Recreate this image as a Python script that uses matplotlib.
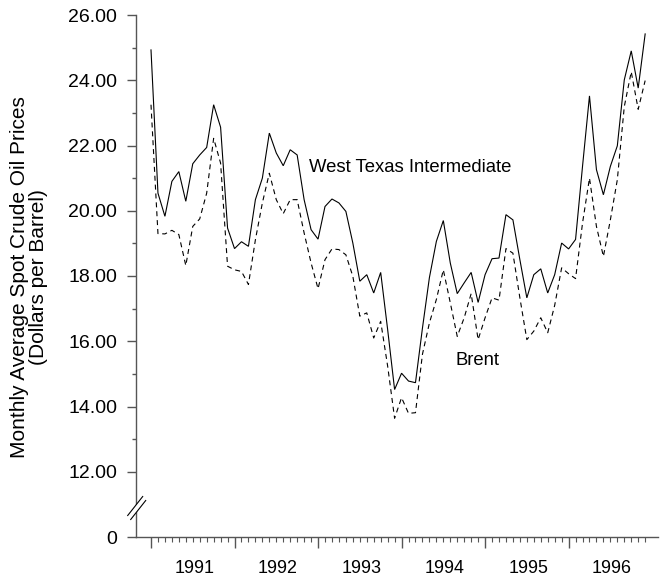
import matplotlib
matplotlib.use("Agg")
import matplotlib.pyplot as plt
from matplotlib.lines import Line2D
from matplotlib.patches import Polygon
import numpy as np

plt.rcParams['font.family'] = ['Liberation Sans', 'DejaVu Sans']

years = ['1991', '1992', '1993', '1994', '1995', '1996']

wti = [24.93, 20.54, 19.83, 20.90, 21.20, 20.29, 21.44, 21.71, 21.94, 23.25, 22.56, 19.47,
       18.84, 19.05, 18.91, 20.34, 21.00, 22.38, 21.77, 21.38, 21.87, 21.71, 20.34, 19.42,
       19.13, 20.13, 20.36, 20.24, 19.98, 19.01, 17.84, 18.04, 17.48, 18.11, 16.36, 14.52,
       15.02, 14.78, 14.73, 16.40, 17.95, 19.06, 19.70, 18.40, 17.46, 17.79, 18.11, 17.19,
       18.04, 18.53, 18.55, 19.88, 19.72, 18.50, 17.33, 18.04, 18.22, 17.48, 18.04, 19.01,
       18.83, 19.12, 21.36, 23.52, 21.26, 20.49, 21.36, 21.99, 24.01, 24.90, 23.76, 25.42]

brent = [23.25, 19.30, 19.29, 19.40, 19.27, 18.32, 19.52, 19.75, 20.54, 22.22, 21.46, 18.30,
         18.19, 18.14, 17.74, 19.11, 20.24, 21.15, 20.34, 19.91, 20.34, 20.34, 19.32, 18.40,
         17.61, 18.50, 18.83, 18.81, 18.65, 17.99, 16.77, 16.87, 16.10, 16.61, 15.24, 13.64,
         14.27, 13.79, 13.81, 15.60, 16.56, 17.28, 18.19, 17.18, 16.15, 16.72, 17.46, 16.05,
         16.72, 17.33, 17.26, 18.84, 18.70, 17.33, 16.05, 16.31, 16.72, 16.26, 17.10, 18.25,
         18.07, 17.92, 19.62, 21.00, 19.52, 18.60, 19.72, 20.95, 23.19, 24.26, 23.11, 23.99]

ytick_vals = [10, 12, 14, 16, 18, 20, 22, 24, 26]
ytick_labels = ['0', '12.00', '14.00', '16.00', '18.00', '20.00', '22.00', '24.00', '26.00']

W, H = 662, 579
fig = plt.figure(figsize=(W / 100, H / 100), dpi=100)
ax = fig.add_axes([136 / W, (H - 537) / H, (658 - 136) / W, (537 - 15) / H])

months = np.arange(len(wti))
ax.plot(months, wti, color='black', lw=0.8, solid_joinstyle='miter')
ax.plot(months, brent, color='black', lw=0.8, linestyle=(0, (4.5, 3.5)))

ax.set_xlim(-2.155, 72.845)
ax.set_ylim(10, 26)

axcol = '#555555'
for s in ['top', 'right']:
    ax.spines[s].set_visible(False)
for s in ['left', 'bottom']:
    ax.spines[s].set_color(axcol)
    ax.spines[s].set_linewidth(1.0)

ax.set_yticks(ytick_vals)
ax.set_yticklabels(ytick_labels)
ax.set_yticks(np.arange(13, 26, 2), minor=True)
ax.tick_params(axis='y', which='major', length=6.5, width=1.0, color=axcol,
               pad=7, labelsize=14)
ax.tick_params(axis='y', which='minor', length=3.2, width=1.0, color=axcol)

ax.set_xticks(np.arange(0, 72, 12))
ax.set_xticklabels([])
ax.set_xticks(np.arange(0, 72, 1), minor=True)
ax.tick_params(axis='x', which='major', length=7.9, width=1.0, color=axcol)
ax.tick_params(axis='x', which='minor', length=3.6, width=0.8, color=axcol)

for i, yr in enumerate(years):
    ax.text(6.2 + 12 * i, -0.0613, yr, transform=ax.get_xaxis_transform(),
            ha='center', va='center', fontsize=12.9)

ax.text(22.7, 21.32, 'West Texas Intermediate', ha='left', va='center', fontsize=13.3)
ax.text(43.8, 15.41, 'Brent', ha='left', va='center', fontsize=13.3)

fig.text(20 / W, 1 - 277 / H, 'Monthly Average Spot Crude Oil Prices',
         rotation=90, ha='center', va='center', fontsize=15)
fig.text(39 / W, 1 - 277 / H, '(Dollars per Barrel)',
         rotation=90, ha='center', va='center', fontsize=15)

# axis break marks
def fx(px):
    return px / W

def fy(py):
    return 1 - py / H

p1a, p1b = (127.7, 515.5), (142.7, 496.5)
p2a, p2b = (130.7, 519.5), (145.7, 500.5)
poly = Polygon([(fx(p1a[0]), fy(p1a[1])), (fx(p1b[0]), fy(p1b[1])),
                (fx(p2b[0]), fy(p2b[1])), (fx(p2a[0]), fy(p2a[1]))],
               closed=True, transform=fig.transFigure, facecolor='white',
               edgecolor='none', zorder=5)
fig.patches.append(poly)
for a, b in [(p1a, p1b), (p2a, p2b)]:
    fig.add_artist(Line2D([fx(a[0]), fx(b[0])], [fy(a[1]), fy(b[1])],
                          transform=fig.transFigure, color='black', lw=0.8, zorder=6))

fig.savefig('out.png', dpi=100)
